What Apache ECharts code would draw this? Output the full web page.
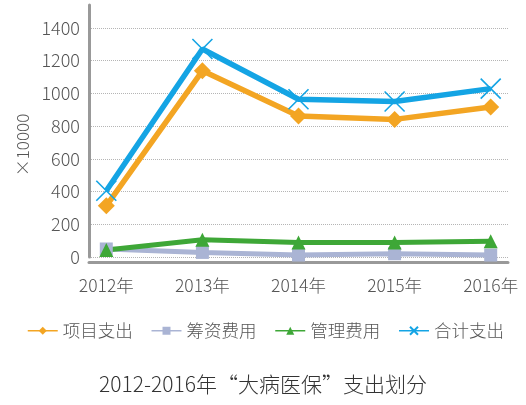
<!DOCTYPE html>
<html>
<head>
<meta charset="utf-8">
<script src="https://cdn.jsdelivr.net/npm/echarts@6/dist/echarts.min.js"></script>
<style>
  html, body { margin: 0; padding: 0; background: #fff; }
  #chart { width: 526px; height: 405px; }
</style>
</head>
<body>
<div id="chart"></div>
<script>
// 年份
const years = ['2012年', '2013年', '2014年', '2015年', '2016年']
// 各项支出 (×10000)
const xiangmu = [313, 1138, 861, 841, 917]
const chouzi = [49, 28, 12, 20, 12]
const guanli = [43, 106, 88, 88, 96]
const heji = [405, 1271, 964, 950, 1029]
const yTicks = [0, 200, 400, 600, 800, 1000, 1200, 1400]

const font = '"Noto Sans CJK SC", "Noto Sans", sans-serif'
const toPairs = arr => arr.map((v, i) => [i, v])

// 叉形标记
const crossPath = 'path://M0,0L10,10M10,0L0,10'

let chart = echarts.init(document.getElementById('chart'))
chart.setOption({
  animation: false,
  textStyle: { fontFamily: font },
  title: {
    text: '2012-2016年“大病医保”支出划分',
    left: 'center',
    top: 369,
    textStyle: { fontSize: 21, fontWeight: 300, color: '#333', fontFamily: font }
  },
  legend: {
    left: 22,
    top: 317,
    itemWidth: 30,
    itemHeight: 10,
    itemGap: 18,
    lineStyle: { width: 1.5 },
    textStyle: { fontSize: 17.5, fontWeight: 300, color: '#555', fontFamily: font },
    data: ['项目支出', '筹资费用', '管理费用', '合计支出']
  },
  grid: { left: 89, right: 18, top: 5, bottom: 148, containLabel: false },
  xAxis: {
    type: 'value',
    min: -0.18,
    max: 4.18,
    interval: 0.02,
    offset: 5,
    axisLine: { show: true, onZero: false, lineStyle: { color: '#999', width: 3 } },
    axisTick: { show: false },
    splitLine: { show: false },
    axisLabel: {
      margin: 15,
      fontSize: 17.5,
      fontWeight: 300,
      color: '#555',
      formatter: v => {
        const r = Math.round(v)
        return Math.abs(v - r) < 1e-6 && years[r] ? years[r] : ''
      }
    }
  },
  yAxis: {
    type: 'value',
    min: 0,
    max: 1540,
    interval: 200,
    name: '×10000',
    nameLocation: 'middle',
    nameGap: 58,
    nameRotate: 90,
    nameTextStyle: { fontSize: 17, fontWeight: 300, color: '#555', padding: [0, 28, 0, 0] },
    axisLine: { show: true, onZero: false, lineStyle: { color: '#999', width: 3 } },
    axisTick: { show: false },
    axisLabel: {
      margin: 9,
      fontSize: 18,
      fontWeight: 300,
      color: '#555',
      showMaxLabel: false,
      formatter: v => yTicks.includes(v) ? v : ''
    },
    splitLine: {
      show: true,
      lineStyle: {
        type: 'dotted',
        width: 1,
        color: yTicks.map(() => '#b5b5b5').concat(['rgba(0,0,0,0)'])
      }
    }
  },
  series: [
    {
      name: '项目支出',
      type: 'line',
      data: toPairs(xiangmu),
      symbol: 'diamond',
      symbolSize: 17,
      lineStyle: { width: 5.5, color: '#f3a523' },
      itemStyle: { color: '#f3a523' }
    },
    {
      name: '筹资费用',
      type: 'line',
      data: toPairs(chouzi),
      symbol: 'rect',
      symbolSize: 13,
      lineStyle: { width: 5, color: '#aab4d4' },
      itemStyle: { color: '#aab4d4' }
    },
    {
      name: '管理费用',
      type: 'line',
      data: toPairs(guanli),
      symbol: 'triangle',
      symbolSize: 14,
      lineStyle: { width: 5, color: '#3ea737' },
      itemStyle: { color: '#3ea737' }
    },
    {
      name: '合计支出',
      type: 'line',
      data: toPairs(heji),
      symbol: crossPath,
      symbolSize: 20,
      lineStyle: { width: 5.5, color: '#14a4e4' },
      itemStyle: { color: 'rgba(0,0,0,0)', borderColor: '#14a4e4', borderWidth: 1.6 }
    }
  ]
})
</script>
</body>
</html>
